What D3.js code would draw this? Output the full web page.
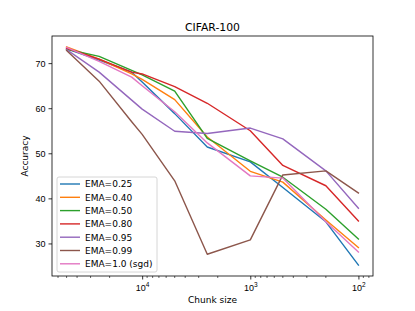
<!DOCTYPE html>
<html>
<head>
<meta charset="utf-8">
<script src="https://cdn.jsdelivr.net/npm/d3@7"></script>
<style>
  body { margin: 0; background: #fff; }
  svg { font-family: "DejaVu Sans", sans-serif; }
</style>
</head>
<body>
<svg id="chart"></svg>
<script>
// chunk sizes on the x axis (log scale, largest on the left)
const chunkSizes = [50000, 25000, 12500, 10000, 5000, 2500, 1000, 500, 200, 100];

// accuracy per EMA setting
const ema025 = [73.2, 70.7, 68.0, 65.8, 58.8, 51.4, 48.1, 42.4, 34.8, 25.2];
const ema040 = [73.6, 70.9, 67.6, 66.4, 61.9, 53.6, 46.0, 43.6, 35.2, 29.1];
const ema050 = [73.1, 71.5, 68.4, 67.4, 63.8, 53.3, 48.3, 44.7, 37.6, 31.0];
const ema080 = [73.3, 70.9, 68.0, 67.6, 64.8, 61.1, 55.0, 47.3, 42.8, 35.0];
const ema095 = [73.0, 68.0, 61.8, 59.8, 54.9, 54.4, 55.6, 53.2, 46.1, 37.8];
const ema099 = [72.8, 66.0, 57.0, 54.2, 43.9, 27.6, 30.8, 45.2, 46.1, 41.2];
const ema100 = [73.5, 70.4, 66.9, 65.0, 59.2, 52.3, 45.0, 44.5, 34.8, 28.1];

const labels = ["EMA=0.25", "EMA=0.40", "EMA=0.50", "EMA=0.80", "EMA=0.95", "EMA=0.99", "EMA=1.0 (sgd)"];
const yTicks = [30, 40, 50, 60, 70];
const xTicks = [10000, 1000, 100];

// tab10 colours
const colors = ["#1f77b4", "#ff7f0e", "#2ca02c", "#d62728", "#9467bd", "#8c564b", "#e377c2"];

const series = [ema025, ema040, ema050, ema080, ema095, ema099, ema100];

let w = 415, h = 311;
let padLeft = 52, padRight = 373, padTop = 36, padBottom = 276;

let svg = d3.select("#chart").attr("width", w).attr("height", h);

// matplotlib-like 5% margins
let allVals = series.flat();
let yMin = d3.min(allVals), yMax = d3.max(allVals);
let yPad = (yMax - yMin) * 0.05;
let lx0 = Math.log10(d3.max(chunkSizes)), lx1 = Math.log10(d3.min(chunkSizes));
let xPad = (lx0 - lx1) * 0.05;

let x = d3.scaleLog()
    .domain([Math.pow(10, lx0 + xPad), Math.pow(10, lx1 - xPad)])
    .range([padLeft, padRight]);

let y = d3.scaleLinear()
    .domain([yMin - yPad, yMax + yPad])
    .range([padBottom, padTop]);

// lines
let line = d3.line()
    .x((d, i) => x(chunkSizes[i]))
    .y(d => y(d));

svg.append("g").selectAll("path")
    .data(series)
    .enter()
    .append("path")
    .attr("d", d => line(d))
    .attr("fill", "none")
    .attr("stroke", (d, i) => colors[i])
    .attr("stroke-width", 1.4)
    .attr("stroke-linejoin", "round")
    .attr("stroke-linecap", "square");

// y axis
let yAxis = svg.append("g")
    .attr("transform", "translate(" + padLeft + ",0)")
    .call(d3.axisLeft(y).tickValues(yTicks).tickSize(3.5).tickPadding(3));
yAxis.select(".domain").remove();
yAxis.selectAll("text").style("font-size", "9px").attr("fill", "#000");
yAxis.selectAll("line").attr("stroke", "#000").attr("stroke-width", 0.8);

// x axis major
let xAxis = svg.append("g")
    .attr("transform", "translate(0," + padBottom + ")")
    .call(d3.axisBottom(x).tickValues(xTicks).tickSize(3.5).tickPadding(3).tickFormat(""));
xAxis.select(".domain").remove();
xAxis.selectAll("line").attr("stroke", "#000").attr("stroke-width", 0.8);

xAxis.selectAll(".tick").append("text")
    .attr("y", 15)
    .attr("text-anchor", "middle")
    .attr("fill", "#000")
    .style("font-size", "9px")
    .each(function(d) {
        let t = d3.select(this);
        t.append("tspan").text("10");
        t.append("tspan")
            .attr("dy", -4)
            .style("font-size", "6.5px")
            .text(Math.round(Math.log10(d)));
    });

// x axis minor ticks
let dom = x.domain();
let minor = [];
for (let e = 1; e <= 4; e++) {
    for (let m = 2; m <= 9; m++) {
        let v = m * Math.pow(10, e);
        if (v <= dom[0] && v >= dom[1]) minor.push(v);
    }
}
svg.append("g").selectAll("line")
    .data(minor)
    .enter()
    .append("line")
    .attr("x1", d => x(d)).attr("x2", d => x(d))
    .attr("y1", padBottom).attr("y2", padBottom + 2)
    .attr("stroke", "#000")
    .attr("stroke-width", 0.6);

// frame
svg.append("rect")
    .attr("x", padLeft).attr("y", padTop)
    .attr("width", padRight - padLeft).attr("height", padBottom - padTop)
    .attr("fill", "none")
    .attr("stroke", "#000")
    .attr("stroke-width", 0.8);

// title and axis labels
svg.append("text")
    .attr("x", (padLeft + padRight) / 2).attr("y", 31)
    .attr("text-anchor", "middle")
    .style("font-size", "10.8px")
    .text("CIFAR-100");

svg.append("text")
    .attr("x", (padLeft + padRight) / 2).attr("y", 303)
    .attr("text-anchor", "middle")
    .style("font-size", "9px")
    .text("Chunk size");

svg.append("text")
    .attr("transform", "translate(28," + ((padTop + padBottom) / 2) + ") rotate(-90)")
    .attr("text-anchor", "middle")
    .style("font-size", "9px")
    .text("Accuracy");

// legend
let lg = svg.append("g").attr("transform", "translate(57,177)");
lg.append("rect")
    .attr("width", 100).attr("height", 95)
    .attr("rx", 2)
    .attr("fill", "#fff").attr("fill-opacity", 0.8)
    .attr("stroke", "#ccc").attr("stroke-width", 0.8);

let items = lg.selectAll("g.item")
    .data(labels)
    .enter()
    .append("g")
    .attr("class", "item")
    .attr("transform", (d, i) => "translate(0," + (7 + i * 13.3) + ")");

items.append("line")
    .attr("x1", 3).attr("x2", 23)
    .attr("stroke", (d, i) => colors[i])
    .attr("stroke-width", 1.4);

items.append("text")
    .attr("x", 28).attr("y", 3.3)
    .style("font-size", "9px")
    .text(d => d);
</script>
</body>
</html>
